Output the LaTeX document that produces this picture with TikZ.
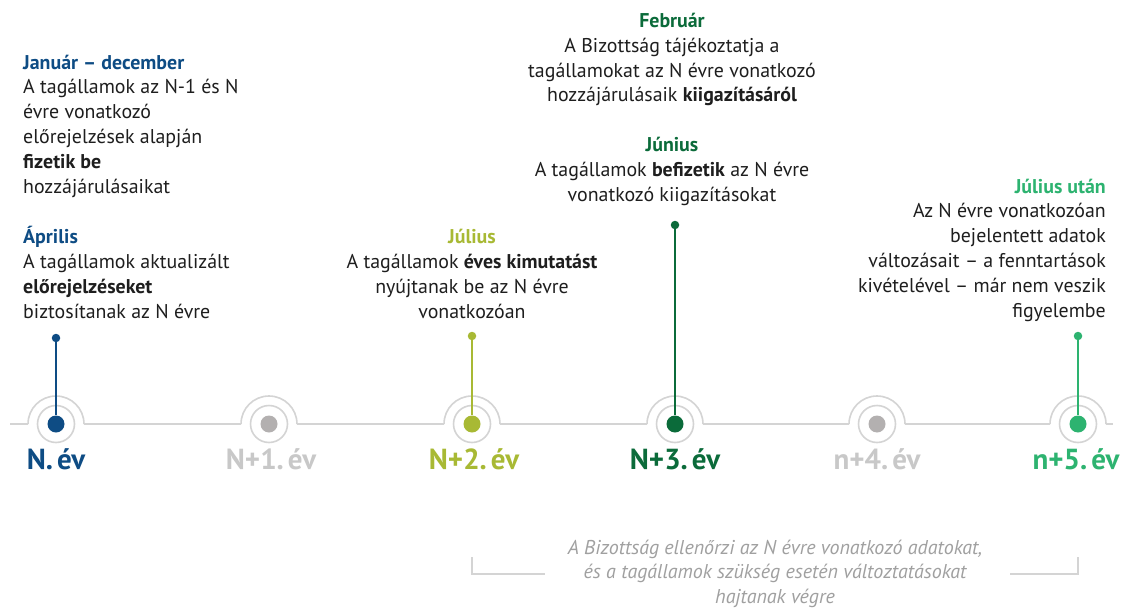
\documentclass[tikz,border=0pt]{standalone}
\usepackage{fontspec}
\setmainfont{PT Sans}
\definecolor{cblue}{HTML}{0E4C84}
\definecolor{colive}{HTML}{A8B934}
\definecolor{cdgreen}{HTML}{0B6B3A}
\definecolor{cgreen}{HTML}{2DB370}
\definecolor{clabgray}{HTML}{C8C8C8}
\definecolor{cdotgray}{HTML}{B3B0B0}
\definecolor{cring}{HTML}{D4D4D4}
\definecolor{ctext}{HTML}{1E1E1E}
\definecolor{citgray}{HTML}{A0A0A0}
\newcommand{\ysp}{\hspace{0.14em}}
\begin{document}
\begin{tikzpicture}[x=1pt,y=1pt,
  body/.style={font=\fontsize{19.9}{24.8}\selectfont, text=ctext, inner sep=0},
  yearlab/.style={font=\fontsize{29}{32}\selectfont\bfseries, inner sep=0, anchor=base},
  bigdot/.style={circle, fill=#1, minimum size=17, inner sep=0},
  ringnode/.style={circle, draw=cring, line width=1.6, minimum size=37, inner sep=0},
  topdot/.style={circle, fill=#1, minimum size=8.5, inner sep=0},
  stem/.style={line width=2, draw=#1},
  outerarc/.style={draw=cring, line width=1.6},
  bracketline/.style={draw=cring, line width=1.5}
]
\useasboundingbox (0,0) rectangle (1123,-607);
\fill[white] (0,0) rectangle (1123,-607);

% timeline
\coordinate (lstart) at (10,-424);
\coordinate (lend) at (1113,-424);
\draw[line width=2.8, cring] (lstart) -- (lend);

% year centres
\foreach \i/\x in {0/56,1/269,2/472,3/675,4/877,5/1078}{
  \coordinate (c\i) at (\x,-424);
  \fill[white] (c\i) circle[radius=28];
  \draw[outerarc] ([xshift=-28pt]c\i) arc[start angle=180, end angle=0, radius=28];
  \node[ringnode] (r\i) at (c\i) {};
}
\node[bigdot=cblue] (d0) at (c0) {};
\node[bigdot=cdotgray] (d1) at (c1) {};
\node[bigdot=colive] (d2) at (c2) {};
\node[bigdot=cdgreen] (d3) at (c3) {};
\node[bigdot=cdotgray] (d4) at (c4) {};
\node[bigdot=cgreen] (d5) at (c5) {};

% stems
\node[topdot=cblue] (t0) at (56,-338) {};
\node[topdot=colive] (t2) at (472,-336) {};
\node[topdot=cdgreen] (t3) at (675,-225) {};
\node[topdot=cgreen] (t5) at (1078,-336) {};
\draw[stem=cblue] (t0) -- (d0);
\draw[stem=colive] (t2) -- (d2);
\draw[stem=cdgreen] (t3) -- (d3);
\draw[stem=cgreen] (t5) -- (d5);

% year labels
\node[yearlab, text=cblue] (y0) at (56,-469) {N.\ysp év};
\node[yearlab, text=clabgray] (y1) at (271,-469) {N+1.\ysp év};
\node[yearlab, text=colive] (y2) at (474,-469) {N+2.\ysp év};
\node[yearlab, text=cdgreen] (y3) at (675,-469) {N+3.\ysp év};
\node[yearlab, text=clabgray] (y4) at (877,-469) {n+4.\ysp év};
\node[yearlab, text=cgreen] (y5) at (1076,-469) {n+5.\ysp év};

% text blocks (base anchor = baseline of last line)
\node[body, align=left, anchor=base west] (jan) at (23,-193) {%
  \textcolor{cblue}{\bfseries Január – december}\\
  A tagállamok az N-1 és N\\
  évre vonatkozó\\
  előrejelzések alapján\\
  \textbf{fizetik be}\\
  hozzájárulásaikat};
\node[body, align=left, anchor=base west] (apr) at (23,-318) {%
  \textcolor{cblue}{\bfseries Április}\\
  A tagállamok aktualizált\\
  \textbf{előrejelzéseket}\\
  biztosítanak az N évre};
\node[body, align=center, anchor=base] (jul) at (472,-318) {%
  \textcolor{colive}{\bfseries Július}\\
  A tagállamok \textbf{éves kimutatást}\\
  nyújtanak be az N évre\\
  vonatkozóan};
\node[body, align=center, anchor=base] (feb) at (672,-102) {%
  \textcolor{cdgreen}{\bfseries Február}\\
  A Bizottság tájékoztatja a\\
  tagállamokat az N évre vonatkozó\\
  hozzájárulásaik \textbf{kiigazításáról}};
\node[body, align=center, anchor=base] (jun) at (672,-201) {%
  \textcolor{cdgreen}{\bfseries Június}\\
  A tagállamok \textbf{befizetik} az N évre\\
  vonatkozó kiigazításokat};
\node[body, align=right, anchor=base east] (jutan) at (1106,-317) {%
  \textcolor{cgreen}{\bfseries Július után}\\
  Az N évre vonatkozóan\\
  bejelentett adatok\\
  változásait – a fenntartások\\
  kivételével – már nem veszik\\
  figyelembe};

% bottom note
\node[body, align=center, anchor=base, text=citgray, font=\fontsize{20}{24.3}\selectfont\itshape] (note) at (775,-603) {%
  A Bizottság ellenőrzi az N évre vonatkozó adatokat,\\
  és a tagállamok szükség esetén változtatásokat\\
  hajtanak végre};
\coordinate (bl1) at (472,-557);
\coordinate (bl2) at (472,-574);
\coordinate (bl3) at (545,-574);
\coordinate (br1) at (1078,-557);
\coordinate (br2) at (1078,-574);
\coordinate (br3) at (1010,-574);
\draw[bracketline] (bl1) -- (bl2) -- (bl3);
\draw[bracketline] (br1) -- (br2) -- (br3);
\end{tikzpicture}
\end{document}
